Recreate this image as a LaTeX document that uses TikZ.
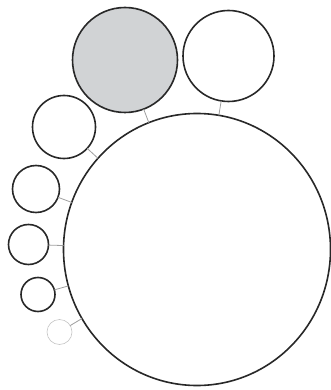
\documentclass[tikz,border=0pt]{standalone}
\usetikzlibrary{shapes.geometric}
\definecolor{ringc}{RGB}{40,40,40}
\definecolor{fillg}{RGB}{209,211,213}
\tikzset{
  ring/.style={circle, draw=ringc, line width=1.6pt, inner sep=0pt, outer sep=0pt},
  faint/.style={circle, draw=gray!45, line width=0.6pt, inner sep=0pt, outer sep=0pt},
  tick/.style={draw=gray!75, line width=0.8pt}
}
\begin{document}
\begin{tikzpicture}[x=1pt,y=-1pt]
\useasboundingbox (0,0) rectangle (331,390);
\node[ellipse, draw=ringc, line width=1.6pt, inner sep=0pt, outer sep=0pt,
      minimum width=267pt, minimum height=272pt] (big) at (197,249.5) {};
\node[ring, fill=fillg, minimum size=105pt] (g) at (125,60) {};
\node[ring, minimum size=91pt] (tr) at (228.5,56) {};
\node[ring, minimum size=63pt] (c3) at (64,127) {};
\node[ring, minimum size=47pt] (c4) at (36,189) {};
\node[ring, minimum size=40pt] (c5) at (28.5,244.5) {};
\node[ring, minimum size=34pt] (c6) at (38,294.5) {};
\node[faint, minimum size=25pt] (c7) at (59.5,332) {};
\draw[tick] (g) -- (big);
\draw[tick] (tr) -- (big);
\draw[tick] (c3) -- (big);
\draw[tick] (c4) -- (big);
\draw[tick] (c5) -- (big);
\draw[tick] (c6) -- (big);
\draw[tick] (c7) -- (big);
\end{tikzpicture}
\end{document}
